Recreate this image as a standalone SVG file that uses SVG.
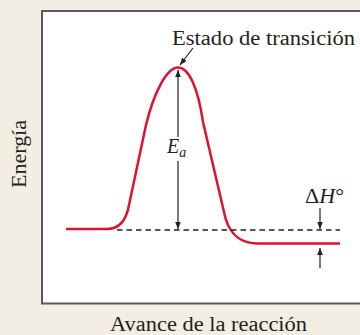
<svg xmlns="http://www.w3.org/2000/svg" width="360" height="335" viewBox="0 0 360 335">
<style>
.t{font-family:"Liberation Serif","Times New Roman",serif;fill:#231f20}
.ar{stroke:#231f20;stroke-width:1.2;fill:none}
</style>
<defs>
<marker id="ah" viewBox="0 0 10 8" refX="10" refY="4" markerWidth="7" markerHeight="5.6" markerUnits="userSpaceOnUse" orient="auto">
<path d="M0,0 L10,4 L0,8 Z" fill="#231f20"/>
</marker>
</defs>
<rect x="0" y="0" width="360" height="335" fill="#f2eee4"/>
<g id="frame">
<rect x="42" y="11" width="340" height="292.5" fill="#ffffff" stroke="#58595b" stroke-width="2"/>
</g>
<g id="curve">
<path d="M66,229 H107 C118,229 126,222 129,205 L146,125 C154,92 167,67.5 178,67.5 C189,67.5 198,88 203,122 L224,212 C227,228 236,243.5 257,243.5 H340" fill="none" stroke="#e0102f" stroke-width="2.5" stroke-linejoin="round"/>
</g>
<g id="connectors">
<line x1="117" y1="230" x2="340" y2="230" stroke="#231f20" stroke-width="1.3" stroke-dasharray="5.5,4"/>
<line class="ar" x1="178" y1="137" x2="178" y2="70" marker-end="url(#ah)"/>
<line class="ar" x1="178" y1="161" x2="178" y2="229" marker-end="url(#ah)"/>
<line class="ar" x1="193" y1="48" x2="180" y2="65" marker-end="url(#ah)"/>
<line class="ar" x1="320" y1="208" x2="320" y2="229" marker-end="url(#ah)"/>
<line class="ar" x1="320" y1="268" x2="320" y2="248" marker-end="url(#ah)"/>
</g>
<g id="labels">
<text class="t" x="172" y="45" font-size="20" textLength="183" lengthAdjust="spacingAndGlyphs">Estado de transición</text>
<text class="t" x="167" y="153" font-size="20" font-style="italic">E<tspan font-size="14" dy="4">a</tspan></text>
<text class="t" x="305" y="203" font-size="20" textLength="39" lengthAdjust="spacingAndGlyphs">Δ<tspan font-style="italic">H</tspan>°</text>
<text class="t" x="208.5" y="331" font-size="20" text-anchor="middle" textLength="197" lengthAdjust="spacingAndGlyphs">Avance de la reacción</text>
<text class="t" transform="translate(26,154) rotate(-90)" font-size="20" text-anchor="middle" textLength="68" lengthAdjust="spacingAndGlyphs">Energía</text>
</g>
</svg>
